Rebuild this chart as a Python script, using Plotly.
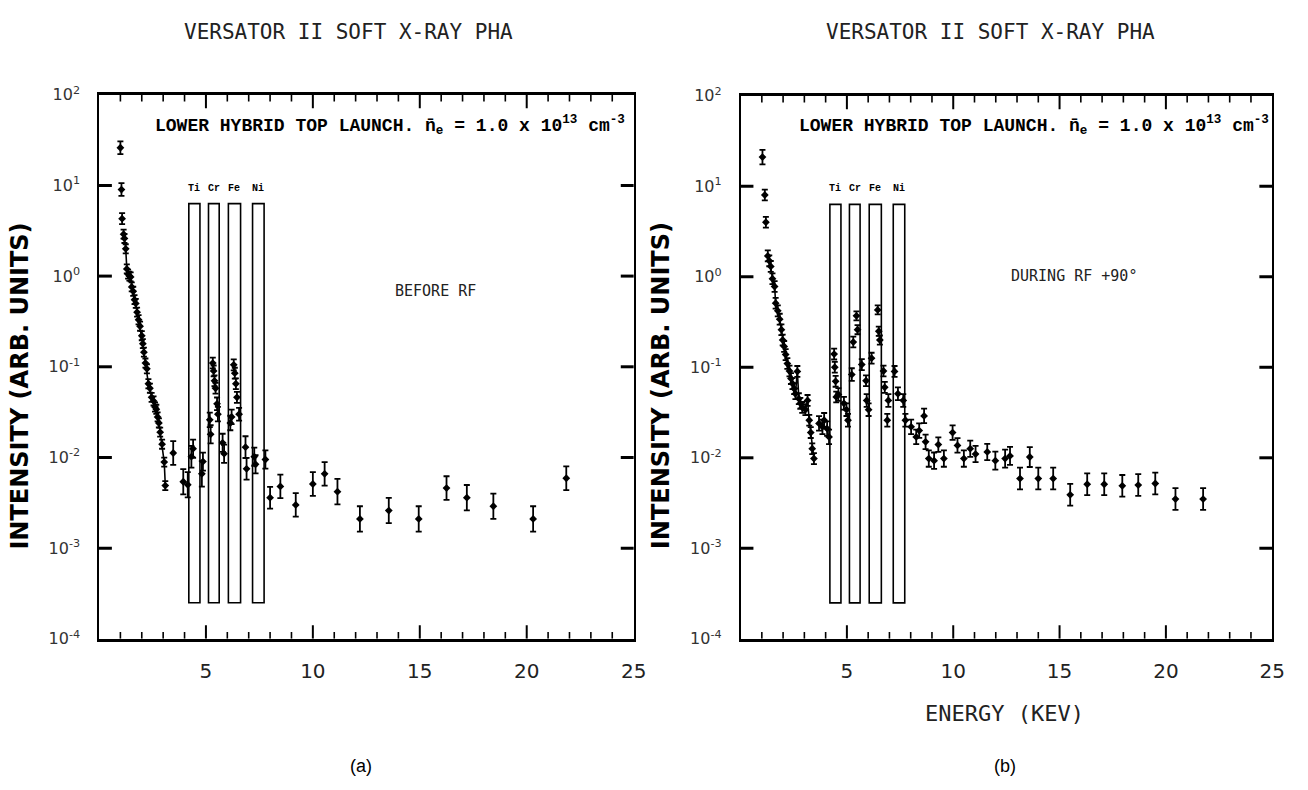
import numpy as np
import plotly.graph_objects as go

W, H = 1308, 790

# ---------------- data ----------------
a_line_x = [1.15, 1.19, 1.25, 1.30, 1.36, 1.42, 1.48, 1.53, 1.60, 1.66, 1.72, 1.78, 1.85, 1.92, 2.00,
            2.05, 2.10, 2.17, 2.24, 2.31, 2.38, 2.46, 2.55, 2.62, 2.68, 2.74, 2.80, 2.86, 2.95, 3.05, 3.10]
a_line_y = [2.9, 2.6, 2.0, 1.2, 1.05, 1.0, 0.98, 0.76, 0.68, 0.55, 0.50, 0.40, 0.33, 0.28, 0.22,
            0.18, 0.145, 0.11, 0.095, 0.065, 0.058, 0.046, 0.042, 0.036, 0.034, 0.028, 0.024, 0.019, 0.014, 0.0089, 0.0049]
a_line_err = [0.05] * 31

a_pts_x = [1.00, 1.05, 1.08, 3.47, 3.94, 4.15, 4.32, 4.40, 4.81, 4.86,
           5.18, 5.22, 5.32, 5.36, 5.40, 5.45, 5.52, 5.56, 5.78, 5.85,
           6.14, 6.20, 6.30, 6.35, 6.40, 6.45, 6.55, 6.85, 6.90,
           7.26, 7.32, 7.78, 8.00, 8.48, 9.20, 10.00, 10.55, 11.15, 12.20, 13.55,
           14.95, 16.25, 17.20, 18.44, 20.30, 21.85]
a_pts_y = [26, 9.0, 4.3, 0.0112, 0.0054, 0.0050, 0.0102, 0.0125, 0.0066, 0.0090,
           0.026, 0.018, 0.11, 0.09, 0.07, 0.058, 0.039, 0.030, 0.0145, 0.011,
           0.024, 0.028, 0.105, 0.085, 0.065, 0.046, 0.030, 0.013, 0.0075,
           0.0102, 0.0084, 0.0095, 0.0036, 0.0048, 0.0030, 0.0051, 0.0066, 0.0042, 0.0021, 0.0026,
           0.0021, 0.0046, 0.0036, 0.0029, 0.0021, 0.0059]
a_pts_err = [0.07, 0.07, 0.06, 0.13, 0.14, 0.14, 0.12, 0.10, 0.14, 0.10,
             0.08, 0.10, 0.06, 0.06, 0.06, 0.06, 0.07, 0.08, 0.10, 0.10,
             0.08, 0.08, 0.06, 0.06, 0.06, 0.06, 0.07, 0.12, 0.12,
             0.10, 0.10, 0.10, 0.12, 0.13, 0.13, 0.13, 0.13, 0.14, 0.14, 0.14,
             0.14, 0.13, 0.14, 0.14, 0.14, 0.13]

b_line_x = [1.28, 1.35, 1.42, 1.50, 1.60, 1.65, 1.75, 1.84, 1.92, 1.98, 2.05, 2.12, 2.20, 2.30, 2.37,
            2.44, 2.52, 2.58, 2.67, 2.74, 2.81, 2.90, 3.05, 3.15, 3.23, 3.30, 3.37, 3.45]
b_line_y = [1.7, 1.5, 1.3, 0.95, 0.78, 0.51, 0.42, 0.34, 0.26, 0.20, 0.17, 0.138, 0.11, 0.091, 0.075,
            0.066, 0.058, 0.051, 0.090, 0.045, 0.040, 0.036, 0.034, 0.043, 0.026, 0.019, 0.0126, 0.0098]
b_line_err = [0.06] * 28

b_pts_x = [1.03, 1.14, 1.19, 3.69, 3.85, 3.93, 4.07, 4.16,
           4.40, 4.43, 4.47, 4.50, 4.60, 4.86, 4.98, 5.05,
           5.23, 5.30, 5.45, 5.50, 5.70, 5.90, 5.93, 6.02,
           6.16, 6.45, 6.50, 6.55, 6.72, 6.78, 6.95, 6.90,
           7.24, 7.40, 7.65, 7.75,
           8.02, 8.26, 8.40, 8.63, 8.70, 8.85, 9.10, 9.30, 9.56, 9.97, 10.20, 10.50, 10.80, 11.05,
           11.60, 11.98, 12.44, 12.67, 13.14, 13.60, 14.00, 14.70, 15.50, 16.30, 17.10, 17.95,
           18.70, 19.50, 20.45, 21.75]
b_pts_y = [21, 8.0, 4.0, 0.024, 0.022, 0.026, 0.021, 0.017,
           0.14, 0.10, 0.07, 0.047, 0.050, 0.040, 0.034, 0.026,
           0.083, 0.19, 0.37, 0.26, 0.107, 0.071, 0.043, 0.034,
           0.126, 0.43, 0.25, 0.20, 0.091, 0.060, 0.043, 0.026,
           0.090, 0.051, 0.043, 0.026,
           0.022, 0.017, 0.020, 0.029, 0.015, 0.0098, 0.0093, 0.014, 0.0098, 0.019, 0.0137, 0.0098, 0.0126, 0.011,
           0.0116, 0.0093, 0.0098, 0.0105, 0.0059, 0.0102, 0.0059, 0.0059, 0.0039, 0.0051, 0.0051, 0.0049,
           0.0050, 0.0052, 0.0035, 0.0035]
b_pts_err = [0.08, 0.06, 0.06, 0.08, 0.08, 0.08, 0.08, 0.08,
             0.06, 0.06, 0.06, 0.06, 0.07, 0.07, 0.07, 0.07,
             0.07, 0.06, 0.05, 0.05, 0.06, 0.06, 0.07, 0.07,
             0.06, 0.05, 0.05, 0.05, 0.06, 0.06, 0.07, 0.07,
             0.06, 0.07, 0.07, 0.07,
             0.08, 0.08, 0.08, 0.08, 0.08, 0.09, 0.09, 0.08, 0.09, 0.08, 0.08, 0.09, 0.09, 0.09,
             0.09, 0.10, 0.10, 0.10, 0.12, 0.11, 0.12, 0.12, 0.12, 0.12, 0.12, 0.12,
             0.12, 0.12, 0.12, 0.12]

elements = ["Ti", "Cr", "Fe", "Ni"]
elem_lo = [4.20, 5.12, 6.05, 7.18]
elem_hi = [4.72, 5.62, 6.62, 7.72]
box_top = 6.3
box_bottom = 2.5e-4

X_RANGE = [0, 25]
Y_RANGE_LOG = [-4, 2]
x_major = [5, 10, 15, 20]
x_minor = [1, 2, 3, 4, 6, 7, 8, 9, 11, 12, 13, 14, 16, 17, 18, 19, 21, 22, 23, 24]
x_labels = [5, 10, 15, 20, 25]
y_ticks = [1e-4, 1e-3, 1e-2, 1e-1, 1e0, 1e1, 1e2]
y_ticktext = ["10<sup>-4</sup>", "10<sup>-3</sup>", "10<sup>-2</sup>", "10<sup>-1</sup>",
              "10<sup>0</sup>", "10<sup>1</sup>", "10<sup>2</sup>"]
y_inner_ticks = [1e-3, 1e-2, 1e-1, 1e0, 1e1]

title_text = "VERSATOR II SOFT X-RAY PHA"
ytitle_text = "INTENSITY (ARB. UNITS)"
xtitle_text = "ENERGY (KEV)"
cond_text = "LOWER HYBRID TOP LAUNCH. n\u0304<sub>e</sub> = 1.0 x 10<sup>13</sup> cm<sup>-3</sup>"


def errs(y, e):
    y = np.asarray(y, float)
    e = np.asarray(e, float)
    return y * (10 ** e - 1), y * (1 - 10 ** (-e))


def px(x):
    return x / W


def py(y):
    return 1 - y / H


fig = go.Figure()


def add_series(xs, ys, es, xa, ya, mode):
    up, dn = errs(ys, es)
    fig.add_trace(go.Scatter(
        x=xs, y=ys, mode=mode, xaxis=xa, yaxis=ya, showlegend=False,
        line=dict(color="black", width=1.6),
        marker=dict(color="black", size=6, symbol="diamond"),
        error_y=dict(type="data", symmetric=False, array=up, arrayminus=dn,
                     color="black", thickness=1.8, width=3),
    ))


add_series(a_line_x, a_line_y, a_line_err, "x", "y", "lines+markers")
add_series(a_pts_x, a_pts_y, a_pts_err, "x", "y", "markers")
add_series(b_line_x, b_line_y, b_line_err, "x2", "y2", "lines+markers")
add_series(b_pts_x, b_pts_y, b_pts_err, "x2", "y2", "markers")

panels = [("x", "y", 540.0, 559.0), ("x2", "y2", 537.0, 558.0)]
ylo, yhi = Y_RANGE_LOG
yspan = yhi - ylo

for xa, ya, wpx, hpx in panels:
    for name, lo, hi in zip(elements, elem_lo, elem_hi):
        fig.add_shape(type="rect", xref=xa, yref=ya, x0=lo, x1=hi,
                      y0=box_bottom, y1=box_top,
                      line=dict(color="black", width=1.6), fillcolor="rgba(0,0,0,0)", layer="above")
        fig.add_annotation(x=(lo + hi) / 2, y=np.log10(box_top) + 0.17, xref=xa, yref=ya,
                           text="<b>%s</b>" % name, showarrow=False,
                           font=dict(family="Liberation Mono", size=10, color="black"))
    # inward x ticks (bottom and top) drawn as a line trace through the axis scales
    for vals, ln, lw in [(x_major, 14, 2.0), (x_minor, 7, 1.6)]:
        d = yspan * ln / hpx
        tx, ty = [], []
        for v in vals:
            tx += [v, v, None, v, v, None]
            ty += [10.0 ** ylo, 10.0 ** (ylo + d), None, 10.0 ** yhi, 10.0 ** (yhi - d), None]
        fig.add_trace(go.Scatter(x=tx, y=ty, mode="lines", xaxis=xa, yaxis=ya,
                                 line=dict(color="black", width=lw), showlegend=False,
                                 hoverinfo="skip", cliponaxis=False, connectgaps=False))
    f = 13 / wpx
    for v in y_inner_ticks:
        for x0, x1 in [(0, f), (1, 1 - f)]:
            fig.add_shape(type="line", xref=xa + " domain", yref=ya, x0=x0, x1=x1, y0=v, y1=v,
                          line=dict(color="black", width=3), layer="above")

common_x = dict(range=X_RANGE, tickvals=x_labels, ticks="",
                showline=True, linewidth=3, linecolor="black", mirror=True,
                showgrid=False, zeroline=False, ticklabelstandoff=12,
                tickfont=dict(family="DejaVu Sans", size=20, color="#222"))
common_y = dict(type="log", range=Y_RANGE_LOG, tickvals=y_ticks, ticktext=y_ticktext, ticks="",
                showline=True, linewidth=1.5, linecolor="black", mirror=True,
                showgrid=False, zeroline=False, ticklabelstandoff=14,
                tickfont=dict(family="DejaVu Sans", size=16, color="#333"))

fig.update_layout(
    width=W, height=H, margin=dict(l=0, r=0, t=0, b=0),
    paper_bgcolor="white", plot_bgcolor="white",
    xaxis=dict(domain=[px(100), px(640)], anchor="y", **common_x),
    yaxis=dict(domain=[py(645), py(86)], anchor="x", **common_y),
    xaxis2=dict(domain=[px(748), px(1285)], anchor="y2", **common_x),
    yaxis2=dict(domain=[py(645), py(87)], anchor="x2", **common_y),
)

mono = "DejaVu Sans Mono"
ann = [
    dict(x=px(352), y=py(22), text=title_text, font=dict(family=mono, size=21, color="#222")),
    dict(x=px(1000), y=py(22), text=title_text, font=dict(family=mono, size=21, color="#222")),
    dict(x=px(20), y=py(385), text="<b>" + ytitle_text + "</b>", textangle=-90,
         font=dict(family="DejaVu Sans", size=24, color="black")),
    dict(x=px(667), y=py(385), text="<b>" + ytitle_text + "</b>", textangle=-90,
         font=dict(family="DejaVu Sans", size=24, color="black")),
    dict(x=px(1015), y=py(722), text=xtitle_text, font=dict(family=mono, size=22, color="#222")),
    dict(x=px(365), y=py(776), text="(a)", font=dict(family="Liberation Sans", size=18, color="black")),
    dict(x=px(1015), y=py(776), text="(b)", font=dict(family="Liberation Sans", size=18, color="black")),
    dict(x=px(440), y=py(288), text="BEFORE RF", font=dict(family=mono, size=15, color="#222")),
    dict(x=px(1085), y=py(272), text="DURING RF +90\u00b0", font=dict(family=mono, size=15, color="#222")),
    dict(x=px(155), y=py(118), text="<b>" + cond_text + "</b>", xanchor="left",
         font=dict(family="Liberation Mono", size=18, color="black")),
    dict(x=px(805), y=py(118), text="<b>" + cond_text + "</b>", xanchor="left",
         font=dict(family="Liberation Mono", size=18, color="black")),
]
for a in ann:
    a.setdefault("xanchor", "center")
    fig.add_annotation(xref="paper", yref="paper", showarrow=False, yanchor="middle", **a)

fig.write_html("out.html")
